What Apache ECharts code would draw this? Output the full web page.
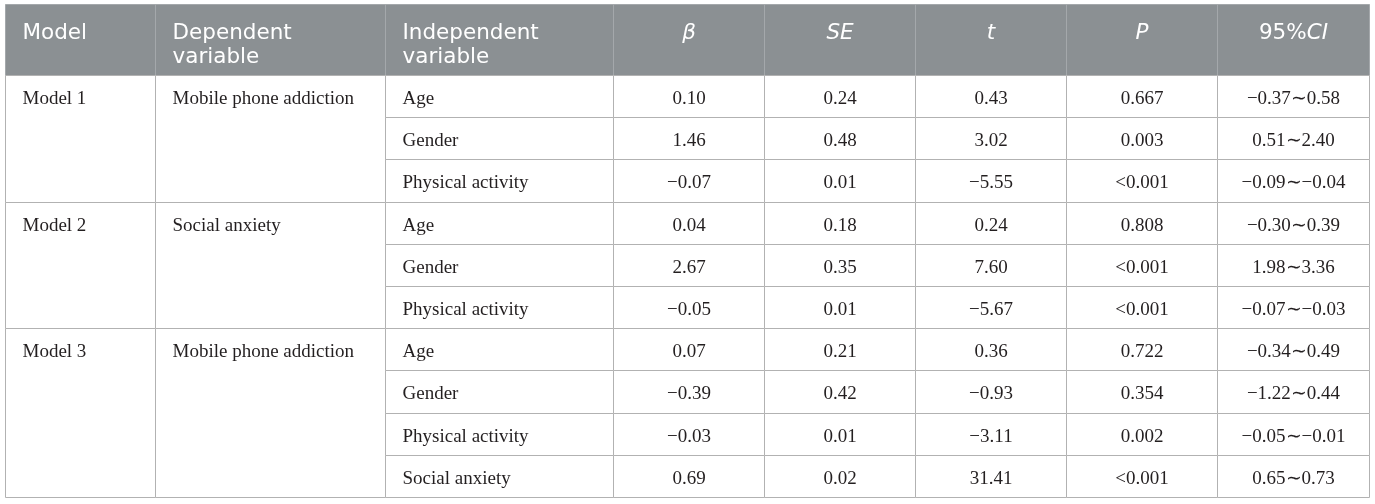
<!DOCTYPE html>
<html>
<head>
<meta charset="utf-8">
<script src="https://cdn.jsdelivr.net/npm/echarts@6.0.0/dist/echarts.min.js"></script>
<style>
  html, body { margin: 0; padding: 0; background: #fff; }
  #main { width: 1375px; height: 504px; }
</style>
</head>
<body>
<div id="main"></div>
<script>
// table content
var headers = ['Model', 'Dependent\nvariable', 'Independent\nvariable', '{i|β}', '{i|SE}', '{i|t}', '{i|P}', '95%{i|CI}'];
var models = ['Model 1', 'Model 2', 'Model 3'];
var dependents = ['Mobile phone addiction', 'Social anxiety', 'Mobile phone addiction'];
var groupSizes = [3, 3, 4];
var independents = ['Age', 'Gender', 'Physical activity', 'Age', 'Gender', 'Physical activity',
  'Age', 'Gender', 'Physical activity', 'Social anxiety'];
var beta = [0.10, 1.46, -0.07, 0.04, 2.67, -0.05, 0.07, -0.39, -0.03, 0.69];
var se = [0.24, 0.48, 0.01, 0.18, 0.35, 0.01, 0.21, 0.42, 0.01, 0.02];
var tValues = [0.43, 3.02, -5.55, 0.24, 7.60, -5.67, 0.36, -0.93, -3.11, 31.41];
var pValues = ['0.667', '0.003', '<0.001', '0.808', '<0.001', '<0.001', '0.722', '0.354', '0.002', '<0.001'];
var ciLow = [-0.37, 0.51, -0.09, -0.30, 1.98, -0.07, -0.34, -1.22, -0.05, 0.65];
var ciHigh = [0.58, 2.40, -0.04, 0.39, 3.36, -0.03, 0.49, 0.44, -0.01, 0.73];

// layout (column widths in px, header height in row units)
var colWidths = [150, 230, 228, 151, 151, 151, 151, 152];
var headerRows = 71 / 42.2;

function fmt(v) {
  return (v < 0 ? '\u2212' : '') + Math.abs(v).toFixed(2);
}

var colEdges = [0];
colWidths.forEach(function (w, i) { colEdges.push(colEdges[i] + w); });
var totalRows = headerRows + independents.length;

// build the cell list
var cells = [];
function addCell(c0, c1, r0, r1, text, kind) {
  cells.push({ value: [colEdges[c0], colEdges[c1], r0, r1], text: text, kind: kind });
}
headers.forEach(function (h, i) {
  addCell(i, i + 1, 0, headerRows, h, i < 3 ? 'headLeft' : 'head');
});
var start = 0;
groupSizes.forEach(function (n, g) {
  addCell(0, 1, headerRows + start, headerRows + start + n, models[g], 'left');
  addCell(1, 2, headerRows + start, headerRows + start + n, dependents[g], 'left');
  start += n;
});
independents.forEach(function (name, r) {
  var r0 = headerRows + r, r1 = r0 + 1;
  addCell(2, 3, r0, r1, name, 'leftRow');
  addCell(3, 4, r0, r1, fmt(beta[r]), 'num');
  addCell(4, 5, r0, r1, fmt(se[r]), 'num');
  addCell(5, 6, r0, r1, fmt(tValues[r]), 'num');
  addCell(6, 7, r0, r1, pValues[r], 'num');
  addCell(7, 8, r0, r1, fmt(ciLow[r]) + '\u223c' + fmt(ciHigh[r]), 'num');
});

var headFont = '"DejaVu Sans", sans-serif';

function renderItem(params, api) {
  var c = cells[params.dataIndex];
  var p0 = api.coord([api.value(0), api.value(2)]);
  var p1 = api.coord([api.value(1), api.value(3)]);
  var x0 = Math.round(p0[0]) + 0.5, y0 = Math.round(p0[1]) + 0.5;
  var w = Math.round(p1[0]) - Math.round(p0[0]);
  var h = Math.round(p1[1]) - Math.round(p0[1]);
  var head = c.kind === 'head' || c.kind === 'headLeft';
  var left = c.kind === 'left' || c.kind === 'leftRow' || c.kind === 'headLeft';
  var textStyle;
  if (head) {
    textStyle = {
      text: c.text,
      x: left ? x0 + 17 : x0 + w / 2,
      y: y0 + 17,
      align: left ? 'left' : 'center',
      verticalAlign: 'top',
      fill: '#ffffff',
      fontFamily: headFont,
      fontSize: 21.5,
      lineHeight: 23.7,
      rich: { i: { fontStyle: 'italic', fontSize: 21.5, fontFamily: headFont, fill: '#ffffff' } }
    };
  } else {
    var topAligned = c.kind === 'left';
    textStyle = {
      text: c.text,
      x: left ? x0 + 17 : x0 + w / 2,
      y: topAligned ? y0 + 21.1 + 2.5 : y0 + h / 2 + 2.5,
      align: left ? 'left' : 'center',
      verticalAlign: 'middle',
      fill: '#231f20',
      fontFamily: '"Liberation Serif", serif',
      fontSize: 19
    };
  }
  return {
    type: 'group',
    children: [
      {
        type: 'rect',
        shape: { x: x0, y: y0, width: w, height: h },
        style: {
          fill: head ? '#8b9093' : '#ffffff',
          stroke: head ? '#a4a8ab' : '#b2b2b2',
          lineWidth: 1
        }
      },
      { type: 'text', style: textStyle }
    ]
  };
}

var myChart = echarts.init(document.getElementById('main'));
myChart.setOption({
  animation: false,
  grid: { left: 5, right: 6, top: 4, bottom: 7 },
  xAxis: { type: 'value', min: 0, max: colEdges[colEdges.length - 1], show: false },
  yAxis: { type: 'value', min: 0, max: totalRows, inverse: true, show: false },
  series: [{
    type: 'custom',
    renderItem: renderItem,
    clip: false,
    encode: { x: [0, 1], y: [2, 3] },
    data: cells.map(function (c) { return c.value; })
  }]
});
</script>
</body>
</html>
